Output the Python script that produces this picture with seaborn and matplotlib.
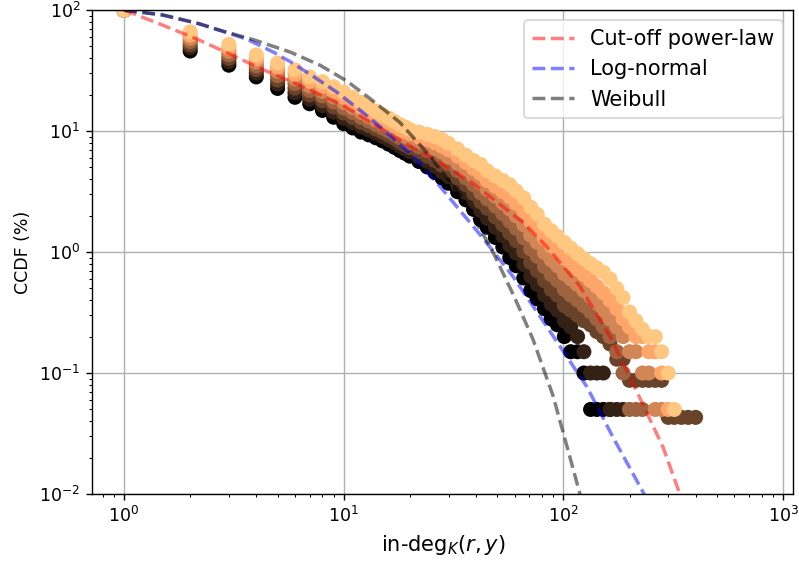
import numpy as np
import pandas as pd
import matplotlib
matplotlib.use("Agg")
import matplotlib.pyplot as plt
import seaborn as sns

# In-degree values at which the empirical CCDFs are evaluated
degree = [1, 2, 3, 4, 5, 6, 7, 8, 9, 10, 11, 12, 13, 14, 15, 16, 17, 18, 19, 20,
          22, 24, 26, 28, 30, 33, 36, 39, 42, 45, 49, 53, 57, 61, 66, 71, 76, 82, 88, 94, 101,
          108, 116, 124, 133, 142, 152, 163, 175, 187, 200, 214, 229, 245, 262, 280, 300,
          320, 345, 370, 400]

# Empirical CCDF (%) per snapshot, oldest (dark) to newest (light); None = beyond max degree
ccdf_0 = [100, 45.8, 35, 28, 22.5, 19, 16.8, 14.8, 13, 11.5, 10.6, 9.8, 9.3, 8.8, 8.3, 7.8, 7.35, 6.9, 6.55, 6.2,
          5.6, 5.05, 4.55, 4.1, 3.7, 3.15, 2.7, 2.25, 1.85, 1.6, 1.32, 1.1, 0.9, 0.77, 0.61, 0.48, 0.41, 0.34, 0.28, 0.25, 0.2,
          0.15, 0.15, 0.1, 0.05, 0.05, 0.05, 0.05, None, None, None, None, None, None, None, None, None,
          None, None, None, None]
ccdf_1 = [100, 48.7, 37.4, 30.0, 24.4, 20.7, 18.3, 16.2, 14.3, 12.7, 11.7, 10.8, 10.2, 9.6, 9.0, 8.5, 8.0, 7.5, 7.1, 6.75,
          6.15, 5.6, 5.1, 4.6, 4.2, 3.6, 3.1, 2.6, 2.2, 1.9, 1.6, 1.36, 1.13, 0.98, 0.79, 0.63, 0.54, 0.44, 0.37, 0.33, 0.27,
          0.24, 0.2, 0.15, 0.1, 0.1, 0.1, 0.05, 0.05, 0.05, None, None, None, None, None, None, None,
          None, None, None, None]
ccdf_2 = [100, 51.7, 39.9, 32.2, 26.4, 22.6, 19.9, 17.8, 15.8, 14.1, 12.9, 11.8, 11.1, 10.4, 9.8, 9.2, 8.7, 8.1, 7.7, 7.3,
          6.75, 6.2, 5.7, 5.2, 4.75, 4.1, 3.6, 3.05, 2.6, 2.3, 1.95, 1.68, 1.43, 1.24, 1.01, 0.82, 0.70, 0.58, 0.49, 0.44, 0.36,
          0.33, 0.3, 0.27, 0.25, 0.22, 0.2, 0.174, 0.13, 0.13, 0.087, 0.087, 0.087, 0.087, 0.087, 0.087, 0.043,
          0.043, 0.043, 0.043, 0.043]
ccdf_3 = [100, 55.0, 42.7, 34.5, 28.7, 24.7, 21.7, 19.5, 17.4, 15.5, 14.2, 13.0, 12.1, 11.3, 10.6, 10.0, 9.4, 8.8, 8.4, 8.0,
          7.4, 6.9, 6.4, 5.9, 5.4, 4.7, 4.1, 3.6, 3.1, 2.75, 2.4, 2.07, 1.8, 1.57, 1.31, 1.06, 0.92, 0.76, 0.65, 0.58, 0.49,
          0.44, 0.4, 0.36, 0.32, 0.28, 0.24, 0.2, 0.15, 0.1, 0.05, 0.05, 0.05, None, None, None, None,
          None, None, None, None]
ccdf_4 = [100, 58.4, 45.6, 37.0, 31.1, 26.9, 23.6, 21.3, 19.1, 17.2, 15.6, 14.3, 13.2, 12.3, 11.5, 10.9, 10.2, 9.6, 9.1, 8.7,
          8.1, 7.65, 7.2, 6.7, 6.1, 5.4, 4.75, 4.2, 3.7, 3.3, 2.9, 2.55, 2.27, 1.99, 1.68, 1.38, 1.2, 0.99, 0.86, 0.77, 0.66,
          0.6, 0.54, 0.48, 0.43, 0.38, 0.33, 0.28, 0.24, 0.2, 0.15, 0.15, 0.1, 0.1, 0.05, 0.05, None,
          None, None, None, None]
ccdf_5 = [100, 62.1, 48.7, 39.6, 33.7, 29.3, 25.7, 23.4, 21.1, 19.0, 17.2, 15.7, 14.5, 13.4, 12.5, 11.8, 11.1, 10.4, 9.9, 9.5,
          8.9, 8.5, 8.0, 7.5, 7.0, 6.2, 5.5, 4.9, 4.45, 3.9, 3.5, 3.15, 2.86, 2.52, 2.17, 1.8, 1.57, 1.3, 1.13, 1.02, 0.89,
          0.8, 0.72, 0.65, 0.58, 0.52, 0.46, 0.4, 0.34, 0.28, 0.24, 0.2, 0.2, 0.15, 0.15, 0.1, 0.05,
          None, None, None, None]
ccdf_6 = [100, 66.0, 52.0, 42.5, 36.5, 32.0, 28.0, 25.6, 23.2, 21.0, 19.0, 17.2, 15.8, 14.6, 13.6, 12.8, 12.0, 11.3, 10.8, 10.3,
          9.8, 9.4, 9.0, 8.5, 7.9, 7.1, 6.3, 5.7, 5.3, 4.7, 4.25, 3.9, 3.6, 3.2, 2.8, 2.35, 2.05, 1.7, 1.5, 1.35, 1.2,
          1.08, 0.97, 0.88, 0.8, 0.74, 0.68, 0.6, 0.5, 0.42, 0.32, 0.27, 0.23, 0.2, 0.2, 0.15, 0.1,
          0.05, None, None, None]

series = [ccdf_0, ccdf_1, ccdf_2, ccdf_3, ccdf_4, ccdf_5, ccdf_6]

# Fitted distributions (CCDF in %)
cutoff_x = [1, 1.5, 2.15, 3.04, 4.16, 6.13, 8.67, 10.35, 17.4, 24.7, 38.7, 47.8, 65.7, 84.2,
            119, 163, 223, 284, 339, 360]
cutoff_y = [100, 75, 57.5, 43.2, 33, 24.4, 18.3, 15.6, 8.7, 6.1, 3.7, 2.75, 1.75, 1.1,
            0.52, 0.2, 0.062, 0.0245, 0.01, 0.0074]

lognorm_x = [1, 1.5, 2.22, 3.62, 4.77, 5.7, 7.25, 9.32, 12.2, 14.6, 20.7, 27.4, 37.6, 43.1,
             59, 84.2, 128, 168, 233, 250]
lognorm_y = [100, 91, 76.5, 57.5, 45, 37.5, 28.4, 20.9, 14.3, 10.9, 6.18, 3.49, 1.75, 1.3,
             0.627, 0.241, 0.0769, 0.0296, 0.01, 0.0078]

weibull_x = [1, 1.5, 2.15, 2.74, 3.87, 5.7, 7.8, 10.3, 13.2, 18, 24.7, 35, 47.8, 60, 72.7,
             89.7, 104, 119, 125]
weibull_y = [100, 91, 78, 68, 57, 45, 35, 26, 18.5, 11.8, 6.2, 2.75, 1.0, 0.42, 0.19,
             0.065, 0.0245, 0.01, 0.0072]

# Long-form table of the empirical points, oldest snapshot first so newer ones sit on top
frames = []
for i, vals in enumerate(series):
    frames.append(pd.DataFrame({"degree": degree,
                                "ccdf": np.array(vals, dtype=float),
                                "snapshot": f"s{i}"}))
points = pd.concat(frames, ignore_index=True).dropna()

cmap = matplotlib.colormaps["copper"]
n = len(series)
palette = {f"s{i}": cmap(i / (n - 1)) for i in range(n)}

fig = plt.figure(figsize=(6.392, 4.488), dpi=125)
ax = fig.add_axes([0.1157, 0.1194, 0.8770, 0.8627])
ax.set_xscale("log")
ax.set_yscale("log")
ax.set_axisbelow(True)
ax.grid(True, which="major", color="#b0b0b0", linewidth=0.8)

sns.scatterplot(data=points, x="degree", y="ccdf", hue="snapshot",
                hue_order=[f"s{i}" for i in range(n)], palette=palette,
                s=75, linewidth=0, legend=False, ax=ax)

sns.lineplot(x=cutoff_x, y=cutoff_y, color="red", alpha=0.5, linestyle="--",
             linewidth=2, label="Cut-off power-law", ax=ax)
sns.lineplot(x=lognorm_x, y=lognorm_y, color="blue", alpha=0.5, linestyle="--",
             linewidth=2, label="Log-normal", ax=ax)
sns.lineplot(x=weibull_x, y=weibull_y, color="black", alpha=0.5, linestyle="--",
             linewidth=2, label="Weibull", ax=ax)

ax.set_xlim(0.718, 1112)
ax.set_ylim(1e-2, 1e2)
ax.set_xlabel(r"in-deg$_K(r, y)$", fontsize=12)
ax.set_ylabel("CCDF (%)", fontsize=10)
ax.legend(loc="upper right", fontsize=12)

fig.savefig("out.png", dpi=125)
